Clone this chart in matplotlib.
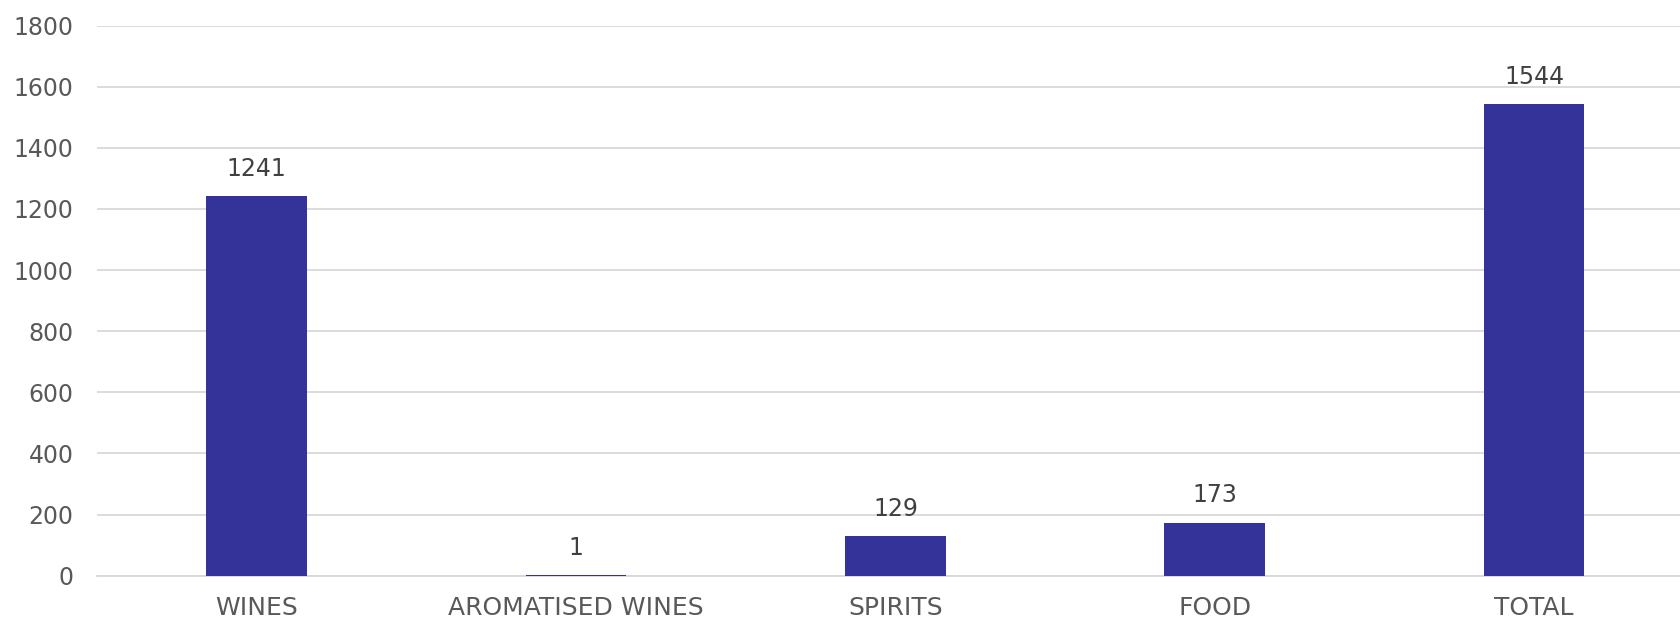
import matplotlib
matplotlib.use("Agg")
import matplotlib.pyplot as plt

categories = ["WINES", "AROMATISED WINES", "SPIRITS", "FOOD", "TOTAL"]
values = [1241, 1, 129, 173, 1544]
y_ticks = [0, 200, 400, 600, 800, 1000, 1200, 1400, 1600, 1800]

BAR_COLOR = "#333399"
GRID_COLOR = "#D9D9D9"

plt.rcParams["font.family"] = ["DejaVu Sans"]

fig = plt.figure(figsize=(16.81, 6.19), dpi=100)
ax = fig.add_axes([0.0577, 0.0701, 0.9423, 0.8884])

x = list(range(len(categories)))
bars = ax.bar(x, values, width=0.315, color=BAR_COLOR, zorder=3)

for xi, v in zip(x, values):
    ax.annotate(str(v), xy=(xi, v), xytext=(0, 11), textcoords="offset points",
                ha="center", va="bottom", fontsize=17, color="#404040")

ax.set_xlim(-0.5, 4.46)
ax.set_ylim(0, 1800)
ax.set_yticks(y_ticks)
ax.set_yticklabels([str(t) for t in y_ticks])
ax.set_xticks(x)
ax.set_xticklabels(categories)
ax.tick_params(axis="y", length=0, pad=17, labelsize=17, labelcolor="#595959")
ax.tick_params(axis="x", length=0, pad=15, labelsize=18, labelcolor="#595959")

ax.grid(axis="y", color=GRID_COLOR, linewidth=1.3, zorder=0)
for side in ["top", "right", "left"]:
    ax.spines[side].set_visible(False)
ax.spines["bottom"].set_color(GRID_COLOR)
ax.spines["bottom"].set_linewidth(1.3)

fig.savefig("out.png", dpi=100)
